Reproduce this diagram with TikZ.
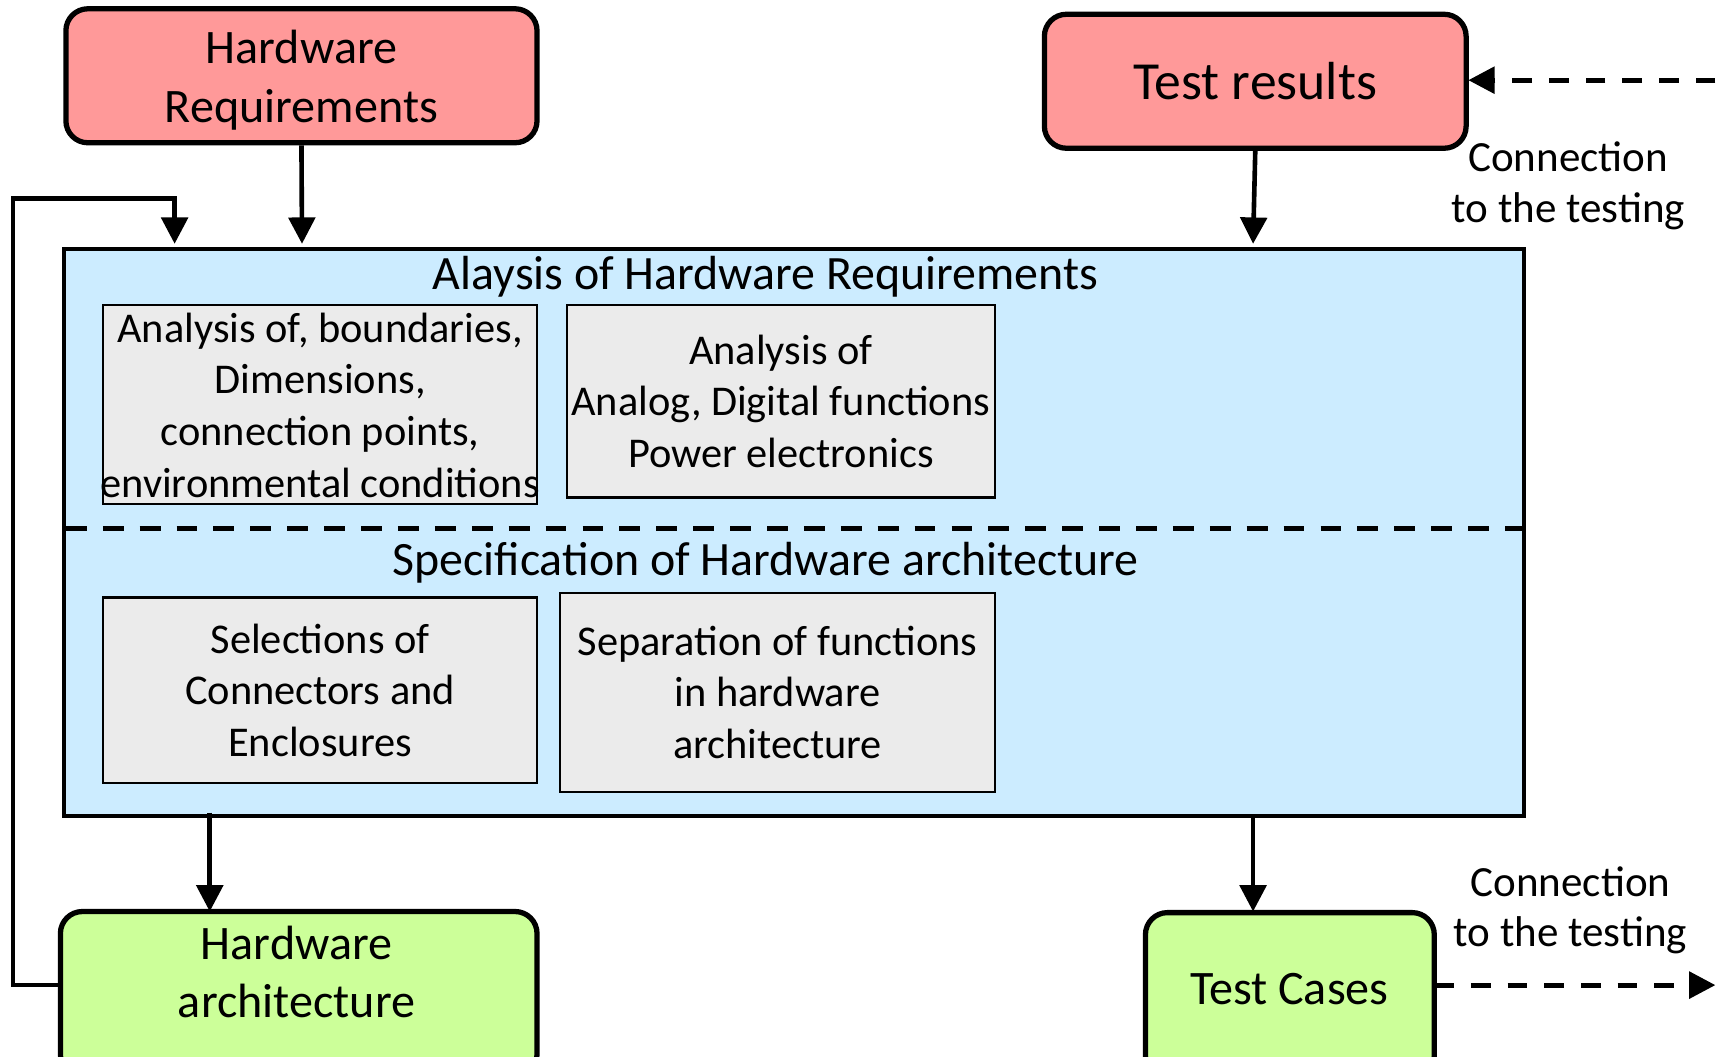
\documentclass[tikz,border=0pt]{standalone}
\usepackage{fontspec}
\setmainfont{Carlito}
\usetikzlibrary{arrows.meta}
\definecolor{pinkfill}{HTML}{FF9999}
\definecolor{bluefill}{HTML}{CCECFF}
\definecolor{greenfill}{HTML}{CCFF99}
\definecolor{grayfill}{HTML}{EBEBEB}
\tikzset{
  outerbox/.style={draw=black, line width=2.4pt, rounded corners=10pt, inner sep=0pt, anchor=center},
  innerbox/.style={draw=black, line width=1pt, fill=grayfill, inner sep=0pt},
  bigtxt/.style={font=\fontsize{21.9}{26.5}\selectfont, align=center, inner sep=0pt},
  midtxt/.style={font=\fontsize{19.3}{23.5}\selectfont, align=center, inner sep=0pt},
  conn/.style={line width=2.1pt, -{Triangle[length=12pt,width=12pt]}},
  dconn/.style={line width=2.3pt, dash pattern=on 9pt off 7.7pt, -{Triangle[length=12pt,width=12pt]}},
}
\begin{document}
\begin{tikzpicture}[x=0.5pt,y=-0.5pt]
\useasboundingbox (0,0) rectangle (1568,962);
% top boxes
\node[outerbox, fill=pinkfill, minimum width=214.5pt, minimum height=61pt] (hwreq) at (274.5,69) {};
\node[bigtxt] (hwreqt) at (274.5,73) {Hardware\\Requirements};
\node[outerbox, fill=pinkfill, minimum width=192pt, minimum height=61pt, font=\fontsize{24.4}{28}\selectfont] (testres) at (1143,74) {Test results};
% main box
\node[draw=black, line width=1.9pt, fill=bluefill, minimum width=665pt, minimum height=258pt, inner sep=0pt] (main) at (723,485) {};
\node[font=\fontsize{21.8}{26}\selectfont, inner sep=0pt] (t1) at (697,252) {Alaysis of Hardware Requirements};
\node[font=\fontsize{21.8}{26}\selectfont, inner sep=0pt] (t2) at (697,512) {Specification of Hardware architecture};
\coordinate (dl) at (60,481);
\coordinate (dr) at (1386,481);
\draw[line width=2.1pt, dash pattern=on 9.5pt off 7.3pt] (dl) -- (dr);
% inner boxes
\node[innerbox, minimum width=197.5pt, minimum height=90.5pt] (b1) at (291.5,368.5) {};
\node[midtxt] (b1t) at (291.5,369) {Analysis of, boundaries,\\Dimensions,\\connection points,\\environmental conditions};
\node[innerbox, minimum width=195pt, minimum height=87.5pt, midtxt] (b2) at (711,365.5) {Analysis of\\Analog, Digital functions\\Power electronics};
\node[innerbox, minimum width=197.5pt, minimum height=84.5pt, midtxt] (b3) at (291.5,628.5) {Selections of\\Connectors and\\Enclosures};
\node[innerbox, minimum width=198pt, minimum height=90.5pt, midtxt] (b4) at (708,630.5) {Separation of functions\\in hardware\\architecture};
% bottom boxes
\node[outerbox, fill=greenfill, minimum width=217pt, minimum height=75pt] (hwarch) at (272,905) {};
\node[bigtxt] (hwarcht) at (270,885) {Hardware\\architecture};
\node[outerbox, fill=greenfill, minimum width=131.5pt, minimum height=75pt] (tc) at (1174.5,906) {};
\node[font=\fontsize{21.9}{26}\selectfont, inner sep=0pt] (tct) at (1174,901) {Test Cases};
% arrows
\coordinate (m1) at (275,222);
\draw[conn] (hwreq.south) -- (m1);
\coordinate (m2) at (1141,222);
\draw[conn] (testres.south) -- (m2);
\coordinate (m3) at (191,740);
\coordinate (a3) at (191,830);
\draw[conn] (m3) -- (a3);
\coordinate (m4) at (1141,743);
\coordinate (a4) at (1141,830);
\draw[conn] (m4) -- (a4);
% feedback
\coordinate (fb1) at (55,897);
\coordinate (fb2) at (12,181);
\coordinate (fb3) at (159,222);
\draw[conn] (fb1) -- (fb2 |- fb1) -- (fb2) -- (fb3 |- fb2) -- (fb3);
% dashed connections
\coordinate (dr1) at (1562,73);
\coordinate (tr1) at (1337,73);
\draw[dconn] (dr1) -- (tr1);
\node[midtxt, font=\fontsize{19.6}{23}\selectfont] (c1) at (1428,169) {Connection\\to the testing};
\coordinate (tc1) at (1306,897);
\coordinate (dr2) at (1562,897);
\draw[dconn] (tc1) -- (dr2);
\node[midtxt, font=\fontsize{19.6}{23}\selectfont] (c2) at (1430,829) {Connection\\to the testing};
\end{tikzpicture}
\end{document}
